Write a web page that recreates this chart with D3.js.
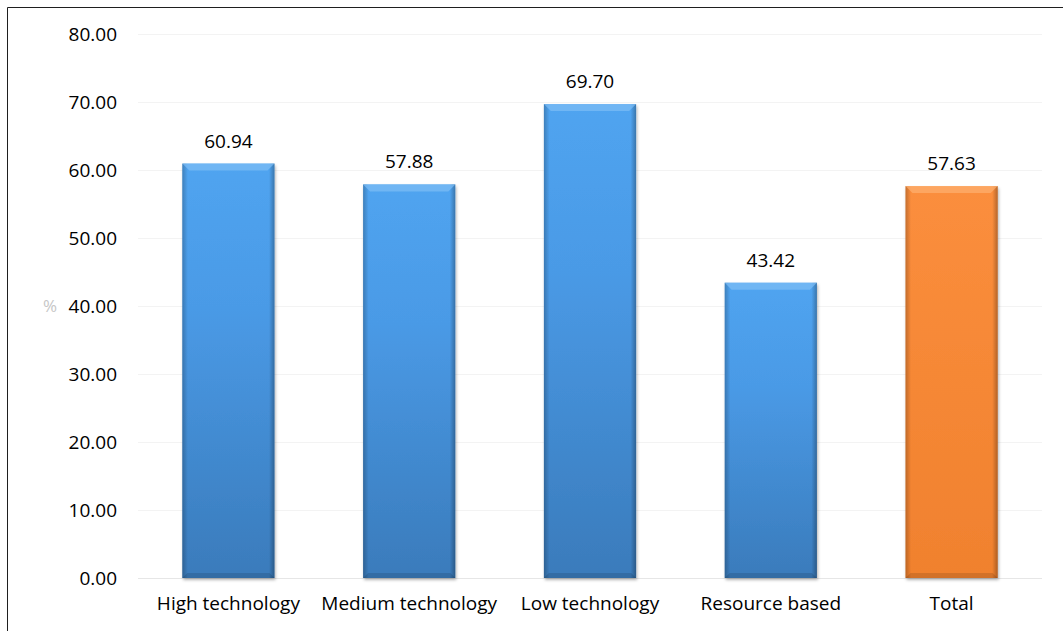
<!DOCTYPE html>
<html>
<head>
<meta charset="utf-8">
<script src="https://cdn.jsdelivr.net/npm/d3@7"></script>
<style>
  body { margin: 0; background: #fff; }
  svg { display: block; font-family: "Open Sans", sans-serif; }
</style>
</head>
<body>
<div id="wrapper"></div>
<script>
const categories = ["High technology", "Medium technology", "Low technology", "Resource based", "Total"]
const values = [60.94, 57.88, 69.70, 43.42, 57.63]
const yTicks = [0, 10, 20, 30, 40, 50, 60, 70, 80]

const width = 1063
const height = 631
const margin = { top: 34, right: 21, bottom: 53, left: 138 }
const boundedWidth = width - margin.left - margin.right
const boundedHeight = height - margin.top - margin.bottom
const fontSize = 19

const svg = d3.select("#wrapper")
  .append("svg")
  .attr("width", width)
  .attr("height", height)

const defs = svg.append("defs")

function vGrad(id, stops) {
  const g = defs.append("linearGradient").attr("id", id)
    .attr("x1", 0).attr("y1", 0).attr("x2", 0).attr("y2", 1)
  stops.forEach(([o, c]) => g.append("stop").attr("offset", o).attr("stop-color", c))
}
vGrad("blueFill", [["0%", "#50a4f0"], ["35%", "#4a9ae6"], ["100%", "#3a7bbb"]])
vGrad("orangeFill", [["0%", "#fb8e3d"], ["100%", "#f0812e"]])

const edge = defs.append("linearGradient").attr("id", "edge")
  .attr("x1", 0).attr("y1", 0).attr("x2", 1).attr("y2", 0)
edge.append("stop").attr("offset", "0%").attr("stop-color", "#000").attr("stop-opacity", 0.22)
edge.append("stop").attr("offset", "6%").attr("stop-color", "#000").attr("stop-opacity", 0)
edge.append("stop").attr("offset", "94%").attr("stop-color", "#000").attr("stop-opacity", 0)
edge.append("stop").attr("offset", "100%").attr("stop-color", "#000").attr("stop-opacity", 0.28)

const shadow = defs.append("filter").attr("id", "shadow")
  .attr("x", "-10%").attr("y", "-5%").attr("width", "125%").attr("height", "112%")
shadow.append("feDropShadow")
  .attr("dx", 1).attr("dy", 2).attr("stdDeviation", 1.5)
  .attr("flood-color", "#000").attr("flood-opacity", 0.3)

// frame lines
svg.append("line").attr("x1", 7.5).attr("x2", 7.5).attr("y1", 7.5).attr("y2", height)
  .attr("stroke", "#1f1f1f").attr("stroke-width", 1)
svg.append("line").attr("x1", 7.5).attr("x2", width).attr("y1", 7.5).attr("y2", 7.5)
  .attr("stroke", "#1f1f1f").attr("stroke-width", 1)

const bounds = svg.append("g")
  .attr("transform", `translate(${margin.left},${margin.top})`)

const xScale = d3.scaleBand()
  .domain(categories)
  .range([0, boundedWidth])
  .paddingInner(0.49)
  .paddingOuter(0.245)

const yScale = d3.scaleLinear()
  .domain([0, 80])
  .range([boundedHeight, 0])

// gridlines
bounds.append("g")
  .selectAll("line")
  .data(yTicks)
  .join("line")
  .attr("x1", 0)
  .attr("x2", boundedWidth)
  .attr("y1", d => Math.round(yScale(d)) + 0.5)
  .attr("y2", d => Math.round(yScale(d)) + 0.5)
  .attr("stroke", d => d === 0 ? "#e6e6e6" : "#f3f3f3")

// y axis labels
const yAxis = d3.axisLeft(yScale)
  .tickValues(yTicks)
  .tickFormat(d3.format(".2f"))
  .tickSize(0)
  .tickPadding(21)
const yAxisG = bounds.append("g").call(yAxis)
yAxisG.select(".domain").remove()
yAxisG.selectAll("text")
  .attr("font-size", fontSize)
  .attr("font-family", "Open Sans, sans-serif")
  .attr("fill", "#000")

// x axis labels
const xAxis = d3.axisBottom(xScale).tickSize(0).tickPadding(19)
const xAxisG = bounds.append("g")
  .attr("transform", `translate(0,${boundedHeight})`)
  .call(xAxis)
xAxisG.select(".domain").remove()
xAxisG.selectAll("text")
  .attr("font-size", fontSize)
  .attr("font-family", "Open Sans, sans-serif")
  .attr("fill", "#000")

// "%" label
bounds.append("text")
  .attr("x", -88)
  .attr("y", boundedHeight / 2)
  .attr("dy", "0.35em")
  .attr("text-anchor", "middle")
  .attr("font-size", 17)
  .attr("fill", "#c6c6c6")
  .text("%")

// bars
const bars = bounds.selectAll(".bar")
  .data(categories.map((c, i) => ({ c, v: values[i], total: c === "Total" })))
  .join("g")
  .attr("class", "bar")

const bw = xScale.bandwidth()
const bevel = 7

bars.append("rect")
  .attr("x", d => xScale(d.c))
  .attr("y", d => yScale(d.v))
  .attr("width", bw)
  .attr("height", d => boundedHeight - yScale(d.v))
  .attr("fill", d => d.total ? "url(#orangeFill)" : "url(#blueFill)")
  .attr("filter", "url(#shadow)")

bars.append("rect")
  .attr("x", d => xScale(d.c))
  .attr("y", d => yScale(d.v))
  .attr("width", bw)
  .attr("height", d => boundedHeight - yScale(d.v))
  .attr("fill", "url(#edge)")

// top bevel
bars.append("path")
  .attr("d", d => {
    const x0 = xScale(d.c), y0 = yScale(d.v)
    return `M${x0},${y0}L${x0 + bw},${y0}L${x0 + bw - bevel},${y0 + bevel}L${x0 + bevel},${y0 + bevel}Z`
  })
  .attr("fill", d => d.total ? "#fdb070" : "#7fbdf5")
  .attr("opacity", 0.7)

// bottom bevel
bars.append("path")
  .attr("d", d => {
    const x0 = xScale(d.c), y1 = yScale(0)
    return `M${x0},${y1}L${x0 + bw},${y1}L${x0 + bw - 5},${y1 - 5}L${x0 + 5},${y1 - 5}Z`
  })
  .attr("fill", "#000")
  .attr("opacity", 0.12)

// value labels
bars.append("text")
  .attr("x", d => xScale(d.c) + bw / 2)
  .attr("y", d => yScale(d.v) - 16)
  .attr("text-anchor", "middle")
  .attr("font-size", fontSize)
  .attr("fill", "#000")
  .text(d => d.v.toFixed(2))
</script>
</body>
</html>
